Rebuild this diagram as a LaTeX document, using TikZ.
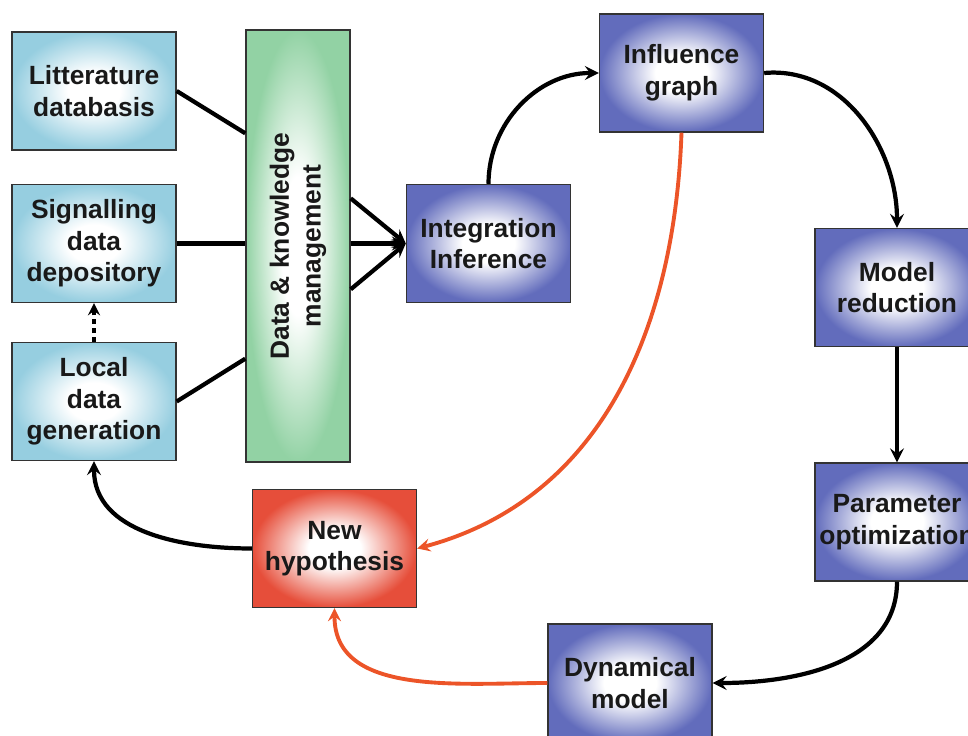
\documentclass[tikz,border=0pt]{standalone}
\usepackage{fontspec}
\setmainfont{Liberation Sans}
\usetikzlibrary{calc}
\definecolor{paleblue}{RGB}{150,206,224}
\definecolor{palegreen}{RGB}{146,210,164}
\definecolor{stepblue}{RGB}{98,108,188}
\definecolor{hypred}{RGB}{230,78,58}
\definecolor{redline}{RGB}{236,84,40}
\pgfdeclareradialshading{paleglow}{\pgfpoint{0bp}{0bp}}{color(0bp)=(white);color(8bp)=(white);color(25bp)=(paleblue);color(50bp)=(paleblue)}
\pgfdeclareradialshading{greenglow}{\pgfpoint{0bp}{0bp}}{color(0bp)=(white);color(8bp)=(white);color(25bp)=(palegreen);color(50bp)=(palegreen)}
\pgfdeclareradialshading{blueglow}{\pgfpoint{0bp}{0bp}}{color(0bp)=(white);color(8bp)=(white);color(25bp)=(stepblue);color(50bp)=(stepblue)}
\pgfdeclareradialshading{redglow}{\pgfpoint{0bp}{0bp}}{color(0bp)=(white);color(8bp)=(white);color(25bp)=(hypred);color(50bp)=(hypred)}
\tikzset{
  label text/.style={text=black!90,align=center,font=\bfseries\fontsize{15}{18}\selectfont},
  box/.style={draw=black!80,line width=0.8pt,minimum width=32.8mm,minimum height=23.6mm,
    inner sep=0pt,label text},
  source/.style={box,shade,shading=paleglow},
  stage/.style={box,shade,shading=blueglow},
  hyp/.style={box,shade,shading=redglow},
  link/.style={line width=2.4pt},
  flow/.style={link,->},
  back/.style={line width=2.2pt,->,redline}
}
\begin{document}
\begin{tikzpicture}[x=0.2mm,y=-0.2mm,>=stealth]
\useasboundingbox (0,0) rectangle (968,736);
\node[source] (lit) at (94,91) {Litterature\\databasis};
\node[source] (sig) at (94,243.5) {Signalling\\data\\depository};
\node[source] (loc) at (94,401.5) {Local\\data\\generation};
\node[box,shade,shading=greenglow,minimum width=20.8mm,minimum height=86.4mm] (dkm) at (298,246) {};
\node[label text,rotate=90] (dkmtext) at (dkm.center) {Data \& knowledge\\management};
\node[stage] (int) at (488.5,243.5) {Integration\\Inference};
\node[stage] (inf) at (681.5,73) {Influence\\graph};
\node[stage] (mr) at (897,287.5) {Model\\reduction};
\node[stage] (po) at (897,522) {Parameter\\optimization};
\node[stage] (dyn) at (630,683) {Dynamical\\model};
\node[hyp] (nh) at (334.5,548.5) {New\\hypothesis};
\draw[link] (lit.east) -- ($(dkm.north west)!.24!(dkm.south west)$);
\draw[link] (sig.east) -- (sig.east -| dkm.west);
\draw[link] (loc.east) -- ($(dkm.north west)!.76!(dkm.south west)$);
\draw[flow] ($(dkm.north east)!.39!(dkm.south east)$) -- (int.west);
\draw[flow] (int.west -| dkm.east) -- (int.west);
\draw[flow] ($(dkm.north east)!.60!(dkm.south east)$) -- (int.west);
\draw[->,line width=2pt,dash pattern=on 3pt off 2pt] (loc.north) -- (sig.south);
\draw[flow] (int.north) to[out=90,in=180] (inf.west);
\draw[flow] (inf.east) to[out=5,in=90] (mr.north);
\draw[flow] (mr.south) -- (po.north);
\draw[flow] (po.south) to[out=-90,in=0] (dyn.east);
\draw[back] (dyn.west) to[out=180,in=-90] (nh.south);
\draw[back] (inf.south) to[out=-92,in=15] (nh.east);
\draw[flow] (nh.west) to[out=180,in=-90] (loc.south);
\end{tikzpicture}
\end{document}
